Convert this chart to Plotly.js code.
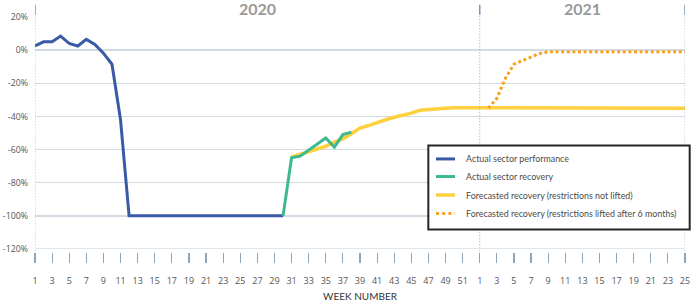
<!DOCTYPE html>
<html>
<head>
<meta charset="utf-8">
<script src="https://cdn.plot.ly/plotly-3.0.1.min.js"></script>
<style>html,body{margin:0;padding:0;background:#fff;}#chart{width:691px;height:306px;}</style>
</head>
<body>
<div id="chart"></div>
<script>
// ---- Data (values in %) ----
const yearLabels = ['2020', '2021'];
const weeksPerYear2020 = 52;

// Actual sector performance, 2020 weeks 1..30
const perfWeeks = [1,2,3,4,5,6,7,8,9,10,11,12,13,14,15,16,17,18,19,20,21,22,23,24,25,26,27,28,29,30];
const perfValues = [2.5,5,5,8.5,4,2.5,6.5,3.5,-1.8,-8.5,-42,-100,-100,-100,-100,-100,-100,-100,-100,-100,-100,-100,-100,-100,-100,-100,-100,-100,-100,-100];

// Actual sector recovery, 2020 weeks 30..38
const recWeeks = [30,31,32,33,34,35,36,37,38];
const recValues = [-100,-65,-64,-60.5,-57,-53,-58.5,-51,-49.5];

// Forecasted recovery (restrictions not lifted): 2020 weeks 31..52, then 2021 weeks 1..25
const fcWeeks2020 = [31,32,33,34,35,36,37,38,39,40,41,42,43,44,45,46,47,48,49,50,51,52];
const fcValues2020 = [-64.5,-63,-61.5,-59.5,-58,-55.5,-53.5,-50.5,-47,-45.5,-43.5,-42,-40.5,-39.5,-38,-36.3,-35.7,-35.3,-35,-34.7,-34.7,-35.2];
const fcWeeks2021 = [1,2,3,4,5,6,7,8,9,10,11,12,13,14,15,16,17,18,19,20,21,22,23,24,25];
const fcValues2021 = [-35,-35,-35,-35,-35,-35,-35,-35,-35,-35,-35,-35,-35,-35,-35,-35,-35,-35,-35,-35,-35,-35,-35,-35,-35];

// Forecasted recovery (restrictions lifted after 6 months): 2021 weeks 2..25
const liftWeeks2021 = [2,3,4,5,6,7,8,9,10,11,12,13,14,15,16,17,18,19,20,21,22,23,24,25];
const liftValues2021 = [-35,-29,-17,-8.5,-6.3,-4.2,-2,-1,-1,-1,-1,-1,-1,-1,-1,-1,-1,-1,-1,-1,-1,-1,-1,-1];

// Tick labels (every other week)
const tickLabels2020 = ['1','3','5','7','9','11','13','15','17','19','21','23','25','27','29','31','33','35','37','39','41','43','45','47','49','51'];
const tickLabels2021 = ['1','3','5','7','9','11','13','15','17','19','21','23','25'];

const seriesNames = [
  'Actual sector performance',
  'Actual sector recovery',
  'Forecasted recovery (restrictions not lifted)',
  'Forecasted recovery (restrictions lifted after 6 months)'
];
const yTickVals = [20,0,-20,-40,-60,-80,-100,-120];
const yTickText = ['20%','0%','-20%','-40%','-60%','-80%','-100%','-120%'];

// ---- Helpers ----
const pos2020 = w => w - 1;
const pos2021 = w => weeksPerYear2020 + w - 1;

const tickVals = tickLabels2020.map(t => pos2020(+t)).concat(tickLabels2021.map(t => pos2021(+t)));
const tickText = tickLabels2020.concat(tickLabels2021);

const colors = ['#3b5aa6', '#3cb98e', '#fdd03e', '#f6a21e'];

const traces = [
  {x: fcWeeks2020.map(pos2020).concat(fcWeeks2021.map(pos2021)), y: fcValues2020.concat(fcValues2021),
   name: seriesNames[2], mode: 'lines', line: {color: colors[2], width: 3.5}},
  {x: liftWeeks2021.map(pos2021), y: liftValues2021, name: seriesNames[3], mode: 'lines',
   line: {color: colors[3], width: 3, dash: '3px,2.6px'}},
  {x: perfWeeks.map(pos2020), y: perfValues, name: seriesNames[0], mode: 'lines', line: {color: colors[0], width: 3}},
  {x: recWeeks.map(pos2020), y: recValues, name: seriesNames[1], mode: 'lines', line: {color: colors[1], width: 3}}
];

const xEnd = pos2021(fcWeeks2021[fcWeeks2021.length - 1]);
const yearBounds = [0, pos2021(1), xEnd];

const shapes = [];
yearBounds.forEach(xv => {
  shapes.push({type: 'line', xref: 'x', yref: 'paper', x0: xv, x1: xv, y0: 0.003, y1: 1.009,
    line: {color: '#8fa4b7', width: 1, dash: '1px,2px'}});
  shapes.push({type: 'line', xref: 'x', yref: 'paper', x0: xv, x1: xv, y0: 1.009, y1: 1.052,
    line: {color: '#7f95a9', width: 1.5}});
});
shapes.push({type: 'line', xref: 'paper', yref: 'y', x0: 0, x1: 1, y0: -120, y1: -120,
  line: {color: '#d3dce4', width: 1.5}});

// Legend (manual box)
const lgX0 = 0.6051, lgX1 = 1.0072, lgYTop = 0.4533, lgYBot = 0.096;
const rowY = [0.396, 0.3211, 0.2424, 0.1636];
const legendOrder = [0, 1, 2, 3];
const legendStyle = [
  {color: colors[0], width: 3}, {color: colors[1], width: 3},
  {color: colors[2], width: 3.5}, {color: colors[3], width: 3, dash: '3px,3.2px'}
];
shapes.push({type: 'rect', xref: 'paper', yref: 'paper', x0: lgX0, x1: lgX1, y0: lgYBot, y1: lgYTop,
  line: {color: '#262626', width: 2}, fillcolor: '#ffffff', layer: 'above'});
const annotations = [];
legendOrder.forEach((k, i) => {
  shapes.push({type: 'line', xref: 'paper', yref: 'paper', x0: 0.6169, x1: 0.6462, y0: rowY[i], y1: rowY[i],
    line: legendStyle[k], layer: 'above'});
  annotations.push({xref: 'paper', yref: 'paper', x: 0.6605, y: rowY[i], xanchor: 'left', yanchor: 'middle',
    text: seriesNames[k], showarrow: false, font: {family: 'Lato', size: 8.9, color: '#4a4a4a'}});
});
// Year labels
annotations.push({xref: 'x', yref: 'paper', x: (yearBounds[0] + yearBounds[1]) / 2, y: 1.035, yanchor: 'middle',
  text: '<b>' + yearLabels[0] + '</b>', showarrow: false, font: {family: 'Lato', size: 16, color: '#9a9a9a'}});
annotations.push({xref: 'x', yref: 'paper', x: (yearBounds[1] + yearBounds[2]) / 2, y: 1.035, yanchor: 'middle',
  text: '<b>' + yearLabels[1] + '</b>', showarrow: false, font: {family: 'Lato', size: 16, color: '#9a9a9a'}});

const layout = {
  width: 691, height: 306,
  margin: {l: 35, r: 6, t: 17, b: 54},
  paper_bgcolor: '#ffffff', plot_bgcolor: '#ffffff',
  showlegend: false,
  xaxis: {
    range: [0, xEnd], anchor: 'free', position: 0,
    tickmode: 'array', tickvals: tickVals, ticktext: tickText,
    showgrid: false, zeroline: false, showline: false,
    ticks: 'outside', ticklen: 10, tickwidth: 1.2, tickcolor: '#8fa4b7',
    ticklabelstandoff: 10,
    tickfont: {family: 'Open Sans', size: 9, color: '#555555'},
    title: {text: 'WEEK NUMBER', standoff: 7, font: {family: 'Lato', size: 10, color: '#333333'}}
  },
  yaxis: {
    range: [-120, 20], domain: [0.0128, 1],
    tickmode: 'array', tickvals: yTickVals, ticktext: yTickText,
    showgrid: true, gridcolor: '#d3dce4', gridwidth: 1.5,
    zeroline: false, showline: false, ticks: '',
    ticklabelstandoff: 6,
    tickfont: {family: 'Open Sans', size: 8.8, color: '#555555'}
  },
  shapes: shapes,
  annotations: annotations
};

Plotly.newPlot('chart', traces, layout, {displayModeBar: false, staticPlot: true});
</script>
</body>
</html>
